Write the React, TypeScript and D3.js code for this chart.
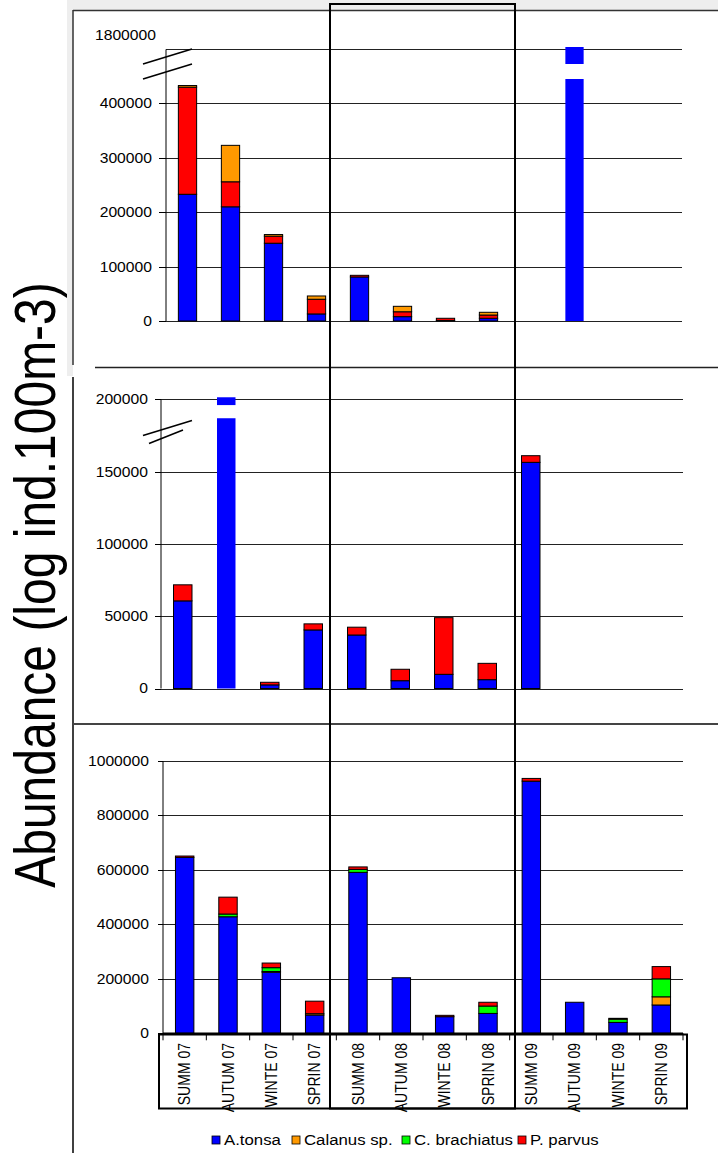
import React from 'react';
import * as d3 from 'd3';

// ---------- DATA ----------
const categories = ['SUMM 07', 'AUTUM 07', 'WINTE 07', 'SPRIN 07', 'SUMM 08', 'AUTUM 08', 'WINTE 08', 'SPRIN 08', 'SUMM 09', 'AUTUM 09', 'WINTE 09', 'SPRIN 09'];
const speciesNames = ['A.tonsa', 'Calanus sp.', 'C. brachiatus', 'P. parvus'];
const speciesColors = ['#0000ff', '#ff9900', '#00ff00', '#ff0000'];

// top panel (stack order: A.tonsa, P. parvus, Calanus sp.)
const topATonsa = [233000, 210000, 143000, 13000, 81000, 8000, 1000, 5000, 0, 1805000, 0, 0];
const topPParvus = [197000, 46000, 13000, 27000, 3000, 9000, 4000, 6000, 0, 0, 0, 0];
const topCalanus = [3000, 67000, 3000, 6000, 0, 10000, 0, 5000, 0, 0, 0, 0];
const topTicks = [0, 100000, 200000, 300000, 400000];
const topBreakTick = 1800000;

// middle panel (stack order: A.tonsa, P. parvus)
const midATonsa = [60600, 201400, 2500, 40500, 37000, 5400, 9800, 6100, 156400, 0, 0, 0];
const midPParvus = [11100, 0, 1800, 4200, 5400, 7900, 39200, 11300, 4600, 0, 0, 0];
const midTicks = [0, 50000, 100000, 150000, 200000];

// bottom panel (stack order: A.tonsa, Calanus sp., C. brachiatus, P. parvus)
const botATonsa = [646000, 428000, 224000, 67000, 591000, 204000, 61000, 73000, 926000, 114000, 40000, 104000];
const botCalanus = [0, 0, 3000, 5000, 0, 0, 0, 0, 0, 0, 0, 30000];
const botCBrach = [0, 10000, 14000, 0, 11000, 0, 0, 27000, 0, 0, 12000, 66000];
const botPParvus = [5000, 62000, 17000, 46000, 9000, 0, 5000, 14000, 10000, 0, 3000, 45000];
const botTicks = [0, 200000, 400000, 600000, 800000, 1000000];

const yTitle = 'Abundance (log ind.100m-3)';

// ---------- STYLE ----------
const FONT = "'Liberation Sans', Arial, Helvetica, sans-serif";
const SX = 1.12;
const GRID = '#222';

function HText({ x, y, anchor = 'start', size = 14, children }: any) {
  return (
    <text transform={`translate(${x},${y}) scale(${SX},1)`} textAnchor={anchor} fontSize={size} fontFamily={FONT} dy="0.35em" fill="#000">
      {children}
    </text>
  );
}

const col = (name: string) => speciesColors[speciesNames.indexOf(name)];

const panels = [
  {
    series: [
      { name: 'A.tonsa', values: topATonsa },
      { name: 'P. parvus', values: topPParvus },
      { name: 'Calanus sp.', values: topCalanus },
    ],
    y: d3.scaleLinear().domain([0, 445000, 1770000, 1805000]).range([321, 79, 64, 47]),
    left: 166, right: 682, axisTop: 1800000,
    ticks: topTicks, gridExtra: [topBreakTick],
    labelX: 152, tickX: 159,
    extraLabel: { text: '1800000', value: topBreakTick, dx: 156, dy: -14 },
    gap: { lo: 445000, hi: 1770000 },
    breakY: 1770000,
    breakMarks: [[-23, 0, 26, -15], [-23, 15, 26, 0]],
  },
  {
    series: [
      { name: 'A.tonsa', values: midATonsa },
      { name: 'P. parvus', values: midPParvus },
    ],
    y: d3.scaleLinear().domain([0, 200000]).range([688.5, 399.3]),
    left: 161, right: 683, axisTop: 200000,
    ticks: midTicks, gridExtra: [],
    labelX: 148, tickX: 155,
    extraLabel: null,
    gap: { lo: 186900, hi: 196000 },
    breakY: 175000,
    breakMarks: [[-18, 0, 31, -15], [-12, 8, 22, -5.5]],
  },
  {
    series: [
      { name: 'A.tonsa', values: botATonsa },
      { name: 'Calanus sp.', values: botCalanus },
      { name: 'C. brachiatus', values: botCBrach },
      { name: 'P. parvus', values: botPParvus },
    ],
    y: d3.scaleLinear().domain([0, 1000000]).range([1033.3, 761]),
    left: 163, right: 683, axisTop: 1000000,
    ticks: botTicks, gridExtra: [],
    labelX: 149, tickX: 158,
    extraLabel: null,
    gap: null,
    breakY: null,
    breakMarks: [],
  },
];

function Panel({ cfg, xAxis }: any) {
  const x = d3.scaleBand<string>().domain(categories).range([cfg.left, cfg.right]).paddingInner(0.575).paddingOuter(0.2875);
  const keys = cfg.series.map((s: any) => s.name);
  const rows = categories.map((c, i) => {
    const r: any = { cat: c };
    cfg.series.forEach((s: any) => { r[s.name] = s.values[i]; });
    return r;
  });
  const stacked = d3.stack<any>().keys(keys)(rows);
  const y = cfg.y;
  const bw = x.bandwidth();
  const step = x.step();
  const crisp = (v: number) => Math.round(v) + 0.5;
  const gridVals = [...cfg.ticks, ...cfg.gridExtra];
  const ax = cfg.left;
  const by = cfg.breakY != null ? y(cfg.breakY) : 0;
  const isBroken = (i: number) => {
    if (!cfg.gap) return false;
    const top = d3.max(stacked, (l: any) => l[i][1]) as number;
    return top > cfg.gap.hi;
  };
  return (
    <g>
      {gridVals.map((v: number) => (
        <line key={'g' + v} x1={ax} x2={cfg.right} y1={crisp(y(v))} y2={crisp(y(v))} stroke={GRID} strokeWidth={1} />
      ))}
      {stacked.map((layer: any) =>
        layer.map((d: any, i: number) => {
          const h = y(d[0]) - y(d[1]);
          if (d[1] - d[0] <= 0) return null;
          const broken = isBroken(i);
          return (
            <rect key={layer.key + i} x={x(categories[i])} y={y(d[1])} width={bw} height={h}
              fill={col(layer.key)} stroke={broken ? 'none' : '#000'} strokeWidth={1} />
          );
        })
      )}
      {cfg.gap && categories.map((c, i) => {
        if (!isBroken(i)) return null;
        return (
          <rect key={'gap' + i} x={(x(c) as number) - 1.5} width={bw + 3}
            y={y(cfg.gap.hi)} height={y(cfg.gap.lo) - y(cfg.gap.hi)} fill="#fff" />
        );
      })}
      <line x1={ax} x2={ax} y1={y(cfg.axisTop)} y2={y(0)} stroke="#000" strokeWidth={1} />
      {cfg.ticks.map((v: number) => (
        <g key={'t' + v}>
          <line x1={cfg.tickX} x2={ax} y1={crisp(y(v))} y2={crisp(y(v))} stroke="#000" strokeWidth={1} />
          <HText x={cfg.labelX} y={y(v)} anchor="end" size={14}>{String(v)}</HText>
        </g>
      ))}
      {cfg.extraLabel && (
        <HText x={cfg.extraLabel.dx} y={y(cfg.extraLabel.value) + cfg.extraLabel.dy} anchor="end" size={14}>{cfg.extraLabel.text}</HText>
      )}
      {cfg.breakMarks.map((m: number[], k: number) => (
        <line key={'b' + k} x1={ax + m[0]} y1={by + m[1]} x2={ax + m[2]} y2={by + m[3]} stroke="#000" strokeWidth={1.6} />
      ))}
      {xAxis && (
        <g>
          <line x1={ax} x2={cfg.right} y1={y(0)} y2={y(0)} stroke="#000" strokeWidth={1.5} />
          {d3.range(categories.length + 1).map((k) => {
            const xx = cfg.left + k * step;
            return <line key={'xt' + k} x1={xx} x2={xx} y1={y(0)} y2={y(0) + 7} stroke="#000" strokeWidth={1} />;
          })}
          {categories.map((c) => {
            const cx = (x(c) as number) + bw / 2;
            return (
              <text key={'xl' + c} transform={`translate(${cx + 5.5},1043) rotate(-90) scale(1,${SX})`}
                textAnchor="end" fontSize={14} fontFamily={FONT} fill="#000">{c}</text>
            );
          })}
        </g>
      )}
    </g>
  );
}

const legendX = [212, 292, 402, 518];

export default function App() {
  const W = 718, H = 1153;
  return (
    <svg width={W} height={H} style={{ position: 'absolute', left: 0, top: 0, display: 'block' }} fontFamily={FONT}>
      <rect width={W} height={H} fill="#fff" />
      {/* frames */}
      <rect x={67} y={0} width={W - 67} height={10} fill="#eeeeee" />
      <rect x={67} y={0} width={6} height={376} fill="#eeeeee" />
      <line x1={73} x2={W} y1={10.5} y2={10.5} stroke="#333" strokeWidth={1.5} />
      <line x1={73} x2={73} y1={10} y2={365} stroke="#333" strokeWidth={1.5} />
      <line x1={95} x2={W} y1={367.5} y2={367.5} stroke="#222" strokeWidth={1.5} />
      <line x1={73} x2={73} y1={377} y2={H} stroke="#000" strokeWidth={1.5} />
      <line x1={73} x2={W} y1={724} y2={724} stroke="#444" strokeWidth={2} />

      <Panel cfg={panels[0]} xAxis={false} />
      <Panel cfg={panels[1]} xAxis={false} />
      <Panel cfg={panels[2]} xAxis={true} />

      {/* label box and centre rectangle */}
      <rect x={159} y={1034.5} width={528} height={74} fill="none" stroke="#000" strokeWidth={2} />
      <rect x={330} y={4} width={185} height={1104.5} fill="none" stroke="#000" strokeWidth={2} />

      {/* legend */}
      {speciesNames.map((n, i) => (
        <g key={n}>
          <rect x={legendX[i]} y={1136} width={8} height={8} fill={speciesColors[i]} stroke="#000" strokeWidth={0.8} />
          <HText x={legendX[i] + 12} y={1140} size={15}>{n}</HText>
        </g>
      ))}

      {/* y title */}
      <text transform={`translate(55,585) rotate(-90) scale(1,1.2)`} textAnchor="middle" fontSize={48} fontFamily={FONT} fill="#000">{yTitle}</text>
    </svg>
  );
}
